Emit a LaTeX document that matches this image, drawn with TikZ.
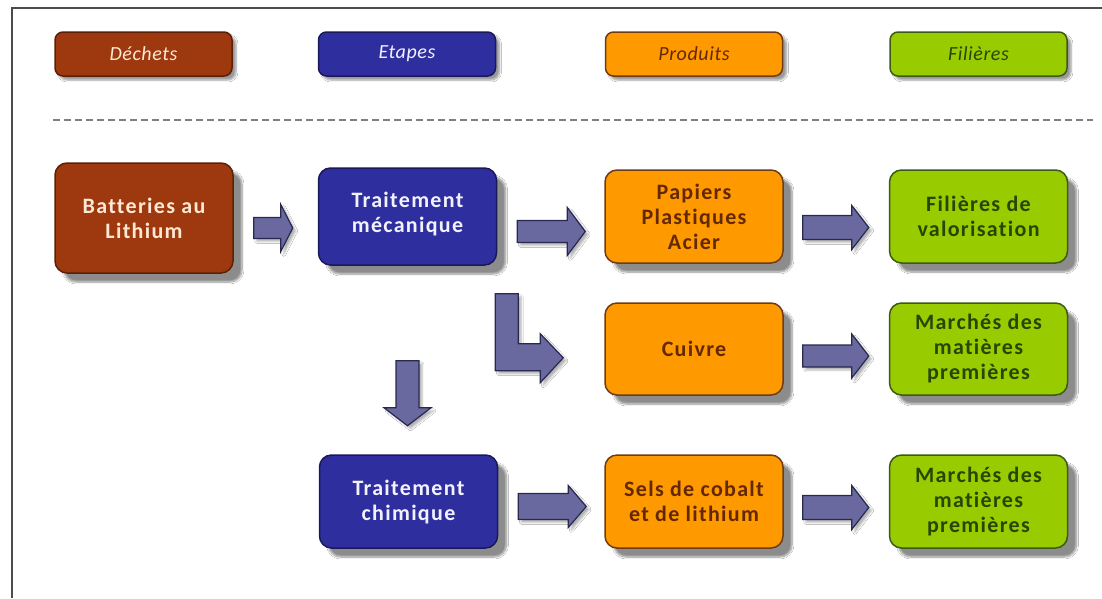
\documentclass[tikz,border=0pt]{standalone}
\usepackage{fontspec}
\setmainfont{Carlito}[Ligatures=NoCommon]
\usetikzlibrary{shadows.blur,calc}
\definecolor{rustF}{RGB}{158,56,14}
\definecolor{rustD}{RGB}{90,32,10}
\definecolor{rustT}{RGB}{255,232,212}
\definecolor{blueF}{RGB}{46,46,158}
\definecolor{blueD}{RGB}{25,25,90}
\definecolor{blueT}{RGB}{242,242,255}
\definecolor{orF}{RGB}{255,153,0}
\definecolor{orD}{RGB}{110,60,20}
\definecolor{orT}{RGB}{100,40,0}
\definecolor{grF}{RGB}{153,204,0}
\definecolor{grD}{RGB}{60,90,20}
\definecolor{grT}{RGB}{40,70,0}
\definecolor{arF}{RGB}{105,105,160}
\definecolor{arD}{RGB}{40,40,80}
\newcommand\harr[5]{\draw[barrow] #1 ++(0,-#3) -- ++({#2-#5},0) -- ++(0,{#3-#4}) -- ++(#5,#4) -- ++(-#5,#4) -- ++(0,{#3-#4}) -- ++({#5-#2},0) -- cycle;}
\newcommand\varr[5]{\draw[barrow] #1 ++(-#3,0) -- ++(0,{#2-#5}) -- ++({#3-#4},0) -- ++(#4,#5) -- ++(#4,-#5) -- ++({#3-#4},0) -- ++(0,{#5-#2}) -- cycle;}
\begin{document}
\begin{tikzpicture}[x=1pt,y=-1pt,
  box/.style={rectangle, rounded corners=12pt, line width=1.5pt, align=center, inner sep=0pt,
    minimum width=178pt, minimum height=93pt,
    font=\bfseries\fontsize{22}{25}\selectfont\addfontfeature{LetterSpace=6,Ligatures=NoCommon},
    blur shadow={shadow xshift=9pt, shadow yshift=-9pt, shadow opacity=45, shadow blur steps=8}},
  leg/.style={rectangle, rounded corners=8pt, line width=1.5pt, align=center, inner sep=0pt,
    minimum width=177pt, minimum height=44pt,
    font=\itshape\fontsize{20}{22}\selectfont\addfontfeature{LetterSpace=3,Ligatures=NoCommon},
    blur shadow={shadow xshift=4pt, shadow yshift=-4pt, shadow opacity=40, shadow blur steps=5}},
  dech/.style={fill=rustF, draw=rustD, text=rustT},
  etap/.style={fill=blueF, draw=blueD, text=blueT},
  prod/.style={fill=orF, draw=orD, text=orT},
  fili/.style={fill=grF, draw=grD, text=grT},
  barrow/.style={fill=arF, draw=arD, line width=1.2pt, line join=miter,
    blur shadow={shadow xshift=3pt, shadow yshift=-3pt, shadow opacity=30, shadow blur steps=4}}
]
\fill[white] (0,0) rectangle (1102,598);
\useasboundingbox (0,0) rectangle (1102,598);
\draw[line width=2pt, black!70] (12,598) -- (12,8) -- (1102,8);

% legend
\node[leg,dech] (l1) at (143.5,54) {Déchets};
\node[leg,etap] (l2) at (407,54) {Etapes};
\node[leg,prod] (l3) at (694,54) {Produits};
\node[leg,fili] (l4) at (978.5,54) {Filières};
\draw[black!50, line width=2.5pt, dash pattern=on 7pt off 4pt] (53,120) -- (1093,120);

% row 1
\node[box,dech,minimum height=110pt] (bat) at (144,218) {Batteries au\\Lithium};
\node[box,etap,minimum height=97pt] (tm) at (407.5,216.5) {Traitement\\mécanique\rule[-8pt]{0pt}{0pt}};
\node[box,prod] (pap) at (694,216.5) {Papiers\\Plastiques\\Acier};
\node[box,fili] (fil) at (978.5,216.5) {Filières de\\valorisation};
% row 2
\node[box,prod,minimum height=92pt] (cui) at (694,349) {Cuivre};
\node[box,fili,minimum height=92pt] (mp1) at (978.5,349) {Marchés des\\matières\\premières};
% row 3
\node[box,etap] (tc) at (408.5,501.5) {Traitement\\chimique};
\node[box,prod] (sel) at (694,501.5) {Sels de cobalt\\et de lithium};
\node[box,fili] (mp2) at (978.5,501.5) {Marchés des\\matières\\premières};

% arrows
\harr{($(bat.east)+(20,10)$)}{39}{10.5}{23.5}{12}
\harr{($(tm.east)+(20,15)$)}{68}{11}{24}{18}
\harr{($(pap.east)+(19,11)$)}{66}{12}{22}{17}
\harr{($(cui.east)+(19,7)$)}{66}{11}{22}{17}
\harr{($(tc.east)+(20,5)$)}{68}{13}{21}{18}
\harr{($(sel.east)+(19,6)$)}{66}{12}{22}{17}
\varr{($(tm.south)+(0,95)$)}{65}{11.5}{23.5}{18}
\draw[barrow] ($(tm.south east)+(-2,28)$) -- ++(23,0) -- ++(0,50) -- ++(22,0) -- ++(0,-10)
  -- ++(23,24) -- ++(-23,25) -- ++(0,-12) -- ++(-45,0) -- cycle;
\end{tikzpicture}
\end{document}
